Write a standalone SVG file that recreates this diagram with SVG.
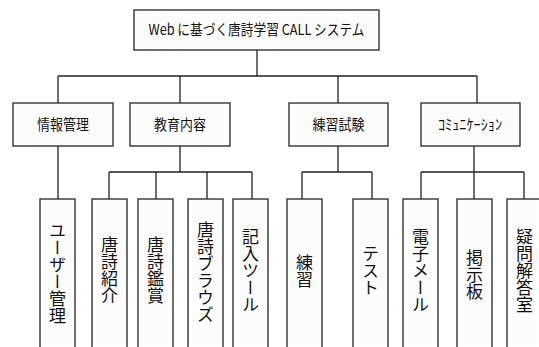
<svg xmlns="http://www.w3.org/2000/svg" width="539" height="347" viewBox="0 0 539 347">
<defs>
<pattern id="dots" width="4" height="4" patternUnits="userSpaceOnUse">
<rect width="4" height="4" fill="#ffffff"/>
<rect x="1" y="1" width="1" height="1" fill="#ececec"/>
</pattern>
</defs>
<style>
.box{fill:url(#dots);stroke:#333;stroke-width:1.4}
.ln{fill:none;stroke:#222;stroke-width:1.3}
.t{font-family:"Noto Sans CJK JP","Noto Sans",sans-serif;fill:#111;text-anchor:middle}
.h{font-size:15px}
.v{font-size:17px;writing-mode:vertical-rl}
</style>
<rect width="539" height="347" fill="#fff"/>
<g id="connectors">
<path class="ln" d="M257 50V76M58 76H477M58 76V103M180 76V103M338 76V103M477 76V103"/>
<path class="ln" d="M58 146V199M180 146V172M109 172H252M109 172V199M156 172V199M207 172V199M252 172V199"/>
<path class="ln" d="M338 146V172M302 172H372M302 172V199M372 172V199"/>
<path class="ln" d="M474 146V172M421 172H524M421 172V199M474 172V199M524 172V199"/>
</g>
<g id="root"><rect class="box" x="134" y="10" width="245" height="40"/><text class="t h" x="256.5" y="35" textLength="216" lengthAdjust="spacingAndGlyphs">Web に基づく唐詩学習 CALL システム</text></g>
<g id="n_joho"><rect class="box" x="13" y="103" width="100" height="43"/><text class="t h" x="63" y="130" textLength="52" lengthAdjust="spacingAndGlyphs">情報管理</text></g>
<g id="n_kyoiku"><rect class="box" x="130" y="103" width="100" height="43"/><text class="t h" x="180" y="130" textLength="52" lengthAdjust="spacingAndGlyphs">教育内容</text></g>
<g id="n_renshu"><rect class="box" x="289" y="103" width="99" height="43"/><text class="t h" x="338.5" y="130" textLength="52" lengthAdjust="spacingAndGlyphs">練習試験</text></g>
<g id="n_comm"><rect class="box" x="421" y="103" width="99" height="43"/><text class="t" style="font-size:15px" x="470" y="130" textLength="64" lengthAdjust="spacingAndGlyphs">ｺﾐｭﾆｹｰｼｮﾝ</text></g>
<g id="n_user"><rect class="box" x="40" y="199" width="35" height="160"/><text class="t v" x="57.5" y="273">ユーザー管理</text></g>
<g id="n_shokai"><rect class="box" x="92" y="199" width="35" height="160"/><text class="t v" x="109.5" y="270">唐詩紹介</text></g>
<g id="n_kansho"><rect class="box" x="138" y="199" width="35" height="160"/><text class="t v" x="155.5" y="270">唐詩鑑賞</text></g>
<g id="n_browse"><rect class="box" x="188" y="199" width="35" height="160"/><text class="t v" x="205.5" y="272">唐詩ブラウズ</text></g>
<g id="n_kinyu"><rect class="box" x="233" y="199" width="35" height="160"/><text class="t v" x="250.5" y="271">記入ツール</text></g>
<g id="n_ren"><rect class="box" x="287" y="199" width="35" height="160"/><text class="t v" x="304.5" y="271">練習</text></g>
<g id="n_test"><rect class="box" x="353" y="199" width="35" height="160"/><text class="t v" x="370.5" y="271">テスト</text></g>
<g id="n_mail"><rect class="box" x="403" y="199" width="35" height="160"/><text class="t v" x="420.5" y="271">電子メール</text></g>
<g id="n_bbs"><rect class="box" x="457" y="199" width="35" height="160"/><text class="t v" x="474.5" y="275">掲示板</text></g>
<g id="n_qa"><rect class="box" x="507" y="199" width="35" height="160"/><text class="t v" x="524.5" y="271">疑問解答室</text></g>
</svg>
